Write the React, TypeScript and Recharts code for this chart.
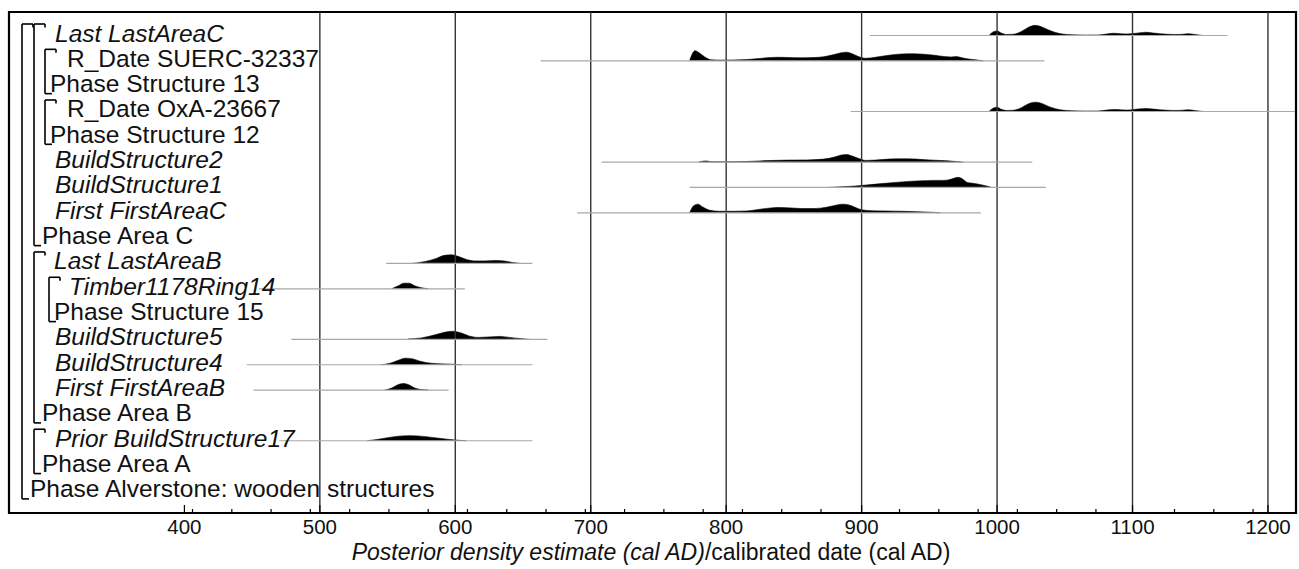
import React from 'react';
import { ComposedChart, Area, XAxis, YAxis, ReferenceLine, ReferenceArea } from 'recharts';

// ---------- data ----------
const ROW_LABELS = [
  'Last LastAreaC', 'R_Date SUERC-32337', 'Phase Structure 13', 'R_Date OxA-23667', 'Phase Structure 12',
  'BuildStructure2', 'BuildStructure1', 'First FirstAreaC', 'Phase Area C', 'Last LastAreaB',
  'Timber1178Ring14', 'Phase Structure 15', 'BuildStructure5', 'BuildStructure4', 'First FirstAreaB',
  'Phase Area B', 'Prior BuildStructure17', 'Phase Area A', 'Phase Alverstone: wooden structures',
];
const ROW_ITALIC = [true, false, false, false, false, true, true, true, false, true, true, false, true, true, true, false, true, false, false];

// range of each distribution (cal AD), null for phase rows
const RANGE_START: (number | null)[] = [906, 663, null, 892, null, 708, 773, 690, null, 549, 455, null, 479, 446, 451, null, 470, null, null];
const RANGE_END: (number | null)[] = [1170, 1035, null, 1220, null, 1026, 1036, 988, null, 657, 607, null, 668, 657, 595, null, 657, null, null];

// posterior densities: years and relative heights
const LAST_C_YEARS = [994, 997, 1000, 1003, 1007, 1012, 1018, 1023, 1028, 1033, 1038, 1043, 1048, 1055, 1065, 1075, 1081, 1086, 1091, 1096, 1101, 1106, 1110, 1115, 1120, 1126, 1132, 1137, 1141, 1146, 1152];
const LAST_C_DENS = [0, 0.35, 0.45, 0.25, 0.1, 0.12, 0.4, 0.8, 1.0, 0.85, 0.55, 0.3, 0.15, 0.07, 0.04, 0.05, 0.15, 0.22, 0.18, 0.15, 0.2, 0.28, 0.32, 0.25, 0.18, 0.12, 0.1, 0.12, 0.18, 0.1, 0];

const SUERC_YEARS = [773, 775, 777, 780, 784, 789, 795, 805, 815, 822, 830, 838, 846, 855, 864, 872, 879, 885, 889, 893, 898, 903, 910, 920, 930, 938, 946, 954, 961, 966, 970, 974, 979, 984, 990];
const SUERC_DENS = [0, 0.7, 1.0, 0.8, 0.4, 0.1, 0.07, 0.08, 0.12, 0.2, 0.3, 0.35, 0.33, 0.3, 0.32, 0.4, 0.6, 0.8, 0.85, 0.7, 0.4, 0.25, 0.35, 0.55, 0.68, 0.7, 0.65, 0.55, 0.42, 0.38, 0.42, 0.3, 0.18, 0.1, 0];

const OXA_YEARS = [994, 997, 1000, 1003, 1007, 1012, 1018, 1023, 1028, 1033, 1038, 1043, 1048, 1055, 1065, 1075, 1081, 1086, 1091, 1096, 1101, 1106, 1110, 1115, 1120, 1126, 1132, 1137, 1141, 1146, 1152];
const OXA_DENS = [0, 0.32, 0.42, 0.22, 0.1, 0.12, 0.38, 0.75, 0.92, 0.8, 0.5, 0.28, 0.14, 0.07, 0.04, 0.05, 0.14, 0.2, 0.17, 0.14, 0.2, 0.26, 0.3, 0.24, 0.17, 0.12, 0.1, 0.12, 0.17, 0.09, 0];

const BUILD2_YEARS = [780, 785, 790, 800, 815, 830, 845, 860, 872, 880, 885, 889, 893, 898, 903, 910, 920, 930, 940, 950, 960, 968, 975];
const BUILD2_DENS = [0.02, 0.12, 0.03, 0.03, 0.06, 0.15, 0.2, 0.22, 0.3, 0.5, 0.7, 0.75, 0.6, 0.35, 0.17, 0.2, 0.3, 0.33, 0.3, 0.22, 0.15, 0.08, 0];

const BUILD1_YEARS = [875, 885, 895, 905, 915, 925, 935, 945, 952, 958, 963, 967, 971, 974, 978, 983, 988, 993, 996];
const BUILD1_DENS = [0, 0.06, 0.14, 0.26, 0.38, 0.5, 0.6, 0.66, 0.7, 0.7, 0.72, 0.85, 1.0, 0.88, 0.5, 0.4, 0.28, 0.12, 0];

const FIRST_C_YEARS = [773, 776, 779, 783, 788, 795, 805, 815, 825, 833, 840, 848, 856, 865, 874, 881, 886, 890, 895, 900, 908, 918, 930, 942, 952, 958];
const FIRST_C_DENS = [0, 0.7, 0.85, 0.55, 0.25, 0.15, 0.15, 0.18, 0.35, 0.48, 0.52, 0.48, 0.42, 0.42, 0.55, 0.75, 0.85, 0.8, 0.55, 0.3, 0.2, 0.18, 0.15, 0.1, 0.05, 0];

const LAST_B_YEARS = [568, 578, 586, 592, 597, 602, 608, 615, 622, 630, 636, 642, 648];
const LAST_B_DENS = [0, 0.2, 0.5, 0.8, 0.85, 0.7, 0.4, 0.25, 0.25, 0.3, 0.25, 0.1, 0];

const TIMBER_YEARS = [553, 558, 562, 566, 570, 575, 580];
const TIMBER_DENS = [0, 0.3, 0.55, 0.55, 0.3, 0.1, 0];

const BUILD5_YEARS = [565, 575, 585, 592, 598, 604, 610, 617, 625, 633, 640, 648, 655];
const BUILD5_DENS = [0.05, 0.15, 0.45, 0.7, 0.8, 0.65, 0.35, 0.2, 0.25, 0.3, 0.2, 0.08, 0];

const BUILD4_YEARS = [545, 552, 558, 563, 568, 574, 582, 592, 600, 605];
const BUILD4_DENS = [0, 0.15, 0.45, 0.65, 0.6, 0.35, 0.15, 0.08, 0.04, 0];

const FIRST_B_YEARS = [548, 553, 558, 562, 566, 570, 575, 580];
const FIRST_B_DENS = [0, 0.2, 0.55, 0.65, 0.5, 0.2, 0.05, 0];

const PRIOR17_YEARS = [535, 542, 550, 558, 565, 572, 580, 588, 596, 603, 608];
const PRIOR17_DENS = [0, 0.12, 0.3, 0.45, 0.5, 0.48, 0.38, 0.25, 0.12, 0.04, 0];

// which density belongs to which row
const ROW_DENSITIES: { row: number; years: number[]; dens: number[] }[] = [
  { row: 0, years: LAST_C_YEARS, dens: LAST_C_DENS },
  { row: 1, years: SUERC_YEARS, dens: SUERC_DENS },
  { row: 3, years: OXA_YEARS, dens: OXA_DENS },
  { row: 5, years: BUILD2_YEARS, dens: BUILD2_DENS },
  { row: 6, years: BUILD1_YEARS, dens: BUILD1_DENS },
  { row: 7, years: FIRST_C_YEARS, dens: FIRST_C_DENS },
  { row: 9, years: LAST_B_YEARS, dens: LAST_B_DENS },
  { row: 10, years: TIMBER_YEARS, dens: TIMBER_DENS },
  { row: 12, years: BUILD5_YEARS, dens: BUILD5_DENS },
  { row: 13, years: BUILD4_YEARS, dens: BUILD4_DENS },
  { row: 14, years: FIRST_B_YEARS, dens: FIRST_B_DENS },
  { row: 16, years: PRIOR17_YEARS, dens: PRIOR17_DENS },
];

// phase brackets: first row, last row, nesting depth
const BRACKET_FIRST = [0, 0, 1, 3, 9, 10, 16];
const BRACKET_LAST = [18, 8, 2, 4, 15, 11, 17];
const BRACKET_DEPTH = [0, 1, 2, 2, 1, 3, 1];

const MAJOR_TICKS = [400, 500, 600, 700, 800, 900, 1000, 1100, 1200];
const MINOR_TICKS = [406, 435, 464, 493, 522, 551, 580, 609, 638, 667, 696, 725, 754, 783, 812, 841, 870, 928, 957, 986, 1015, 1044, 1073, 1131, 1160, 1189];
const GRID_YEARS = [500, 600, 700, 800, 900, 1000, 1100, 1200];

// ---------- layout / style ----------
const W = 1299;
const H = 569;
const PLOT_LEFT = 9;
const PLOT_RIGHT = 1296;
const PLOT_TOP = 12;
const PLOT_BOTTOM = 513;
const X_DOMAIN: [number, number] = [270.5, 1220.7];
const Y_DOMAIN: [number, number] = [-0.853, 18.928];
const ROW_MAX = 18;
const PEAK = 0.4; // row units for relative density 1
const FONT = '"Liberation Sans", Arial, Helvetica, sans-serif';
const LABEL_SIZE = 24.5;
const ROW_INDENT = [55, 67, 50, 67, 50, 55, 55, 55, 42, 54, 69, 54, 55, 55, 55, 42, 55, 42, 30];

const PX_PER_YEAR = (PLOT_RIGHT - PLOT_LEFT) / (X_DOMAIN[1] - X_DOMAIN[0]);
const PX_PER_ROW = (PLOT_BOTTOM - PLOT_TOP) / (Y_DOMAIN[1] - Y_DOMAIN[0]);
const pxToYear = (px: number) => X_DOMAIN[0] + (px - PLOT_LEFT) / PX_PER_YEAR;
const pxToRows = (px: number) => px / PX_PER_ROW;
const rowPos = (i: number) => ROW_MAX - i;

const BRACKET_X = [22, 34, 45, 49];

// ---------- table ----------
const allYears = Array.from(new Set(ROW_DENSITIES.flatMap((d) => d.years))).sort((a, b) => a - b);
const tableData = allYears.map((year) => {
  const rec: Record<string, number | null> = { year };
  ROW_DENSITIES.forEach((d) => {
    const k = d.years.indexOf(year);
    rec['r' + d.row] = k >= 0 ? rowPos(d.row) + d.dens[k] * PEAK : null;
  });
  return rec;
});

const RowTick = (props: any) => {
  const { y, payload } = props;
  const i = Math.round(ROW_MAX - payload.value);
  return (
    <text
      x={ROW_INDENT[i]}
      y={y + 6}
      fontSize={LABEL_SIZE}
      fontFamily={FONT}
      fontStyle={ROW_ITALIC[i] ? 'italic' : 'normal'}
      fill="#111"
    >
      {ROW_LABELS[i]}
    </text>
  );
};

const YearTick = (props: any) => {
  const { x, payload } = props;
  const isMajor = MAJOR_TICKS.includes(payload.value);
  return (
    <g>
      <line x1={x} x2={x} y1={PLOT_BOTTOM} y2={PLOT_BOTTOM - (isMajor ? 8 : 4)} stroke="#000" strokeWidth={1.2} />
      {isMajor && (
        <text x={x} y={PLOT_BOTTOM + 21} textAnchor="middle" fontSize={20.5} fontFamily={FONT} fill="#111">
          {payload.value}
        </text>
      )}
    </g>
  );
};

const AxisTitle = () => (
  <text x={651} y={PLOT_BOTTOM + 47} textAnchor="middle" fontSize={23} fontFamily={FONT} fill="#111">
    <tspan fontStyle="italic">Posterior density estimate (cal AD)</tspan>
    <tspan>/calibrated date (cal AD)</tspan>
  </text>
);

export default function App() {
  const brackets: React.ReactNode[] = [];
  BRACKET_FIRST.forEach((first, b) => {
    const last = BRACKET_LAST[b];
    const bx = BRACKET_X[BRACKET_DEPTH[b]];
    const x0 = pxToYear(bx);
    const xTop = pxToYear(bx + 11);
    const xBot = pxToYear(bx + 7);
    const yTop = rowPos(first) + pxToRows(11.5);
    const yBot = rowPos(last) - pxToRows(7.5);
    const yTick = yTop - pxToRows(3.5);
    const segs: [number, number, number, number][] = [
      [x0, yTop, x0, yBot],
      [x0, yTop, xTop, yTop],
      [xTop, yTop, xTop, yTick],
      [x0, yBot, xBot, yBot],
    ];
    segs.forEach((s, k) => {
      brackets.push(
        <ReferenceLine
          key={`b${b}-${k}`}
          segment={[{ x: s[0], y: s[1] }, { x: s[2], y: s[3] }]}
          stroke="#000"
          strokeWidth={1.6}
          ifOverflow="visible"
        />
      );
    });
  });

  return (
    <div style={{ position: 'absolute', left: 0, top: 0, width: W, height: H, background: '#fff' }}>
      <ComposedChart
        width={W}
        height={H}
        data={tableData}
        margin={{ top: PLOT_TOP, left: PLOT_LEFT, right: W - PLOT_RIGHT, bottom: 0 }}
      >
        <XAxis
          dataKey="year"
          type="number"
          domain={X_DOMAIN}
          allowDataOverflow
          ticks={[...MAJOR_TICKS, ...MINOR_TICKS].sort((a, b) => a - b)}
          interval={0}
          tick={<YearTick />}
          tickLine={false}
          axisLine={{ stroke: '#000', strokeWidth: 2.2 }}
          height={H - PLOT_BOTTOM}
          label={{ content: () => <AxisTitle /> }}
        />
        <YAxis
          type="number"
          domain={Y_DOMAIN}
          allowDataOverflow
          mirror
          width={400}
          ticks={ROW_LABELS.map((_, i) => rowPos(i))}
          interval={0}
          tick={<RowTick />}
          tickLine={false}
          axisLine={false}
        />
        <ReferenceArea
          x1={X_DOMAIN[0]}
          x2={X_DOMAIN[1]}
          y1={Y_DOMAIN[0]}
          y2={Y_DOMAIN[1]}
          fill="none"
          fillOpacity={0}
          stroke="#000"
          strokeWidth={2.2}
          ifOverflow="visible"
        />
        {GRID_YEARS.map((g) => (
          <ReferenceLine key={`g${g}`} x={g} stroke="#333" strokeWidth={1.4} />
        ))}
        {RANGE_START.map((s, i) =>
          s !== null && RANGE_END[i] !== null ? (
            <ReferenceLine
              key={`r${i}`}
              segment={[{ x: s, y: rowPos(i) }, { x: RANGE_END[i] as number, y: rowPos(i) }]}
              stroke="#a8a8a8"
              strokeWidth={1.2}
              ifOverflow="visible"
            />
          ) : null
        )}
        {ROW_DENSITIES.map((d) => (
          <Area
            key={`a${d.row}`}
            dataKey={'r' + d.row}
            type="monotone"
            baseValue={rowPos(d.row)}
            connectNulls
            fill="#000"
            fillOpacity={1}
            stroke="#000"
            strokeWidth={0.6}
            dot={false}
            activeDot={false}
            isAnimationActive={false}
          />
        ))}
        {brackets}
      </ComposedChart>
    </div>
  );
}
